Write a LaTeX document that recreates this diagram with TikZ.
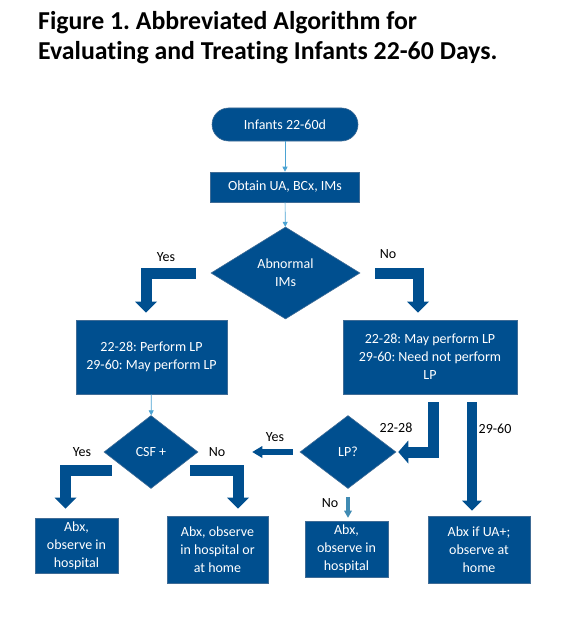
\documentclass[tikz,border=0pt]{standalone}
\usepackage{fontspec}
\setmainfont[Ligatures=NoCommon]{Carlito}
\usetikzlibrary{shapes.geometric,arrows.meta}
\definecolor{ppblue}{RGB}{0,79,143}
\definecolor{ppedge}{RGB}{64,108,150}
\definecolor{pplink}{RGB}{75,163,211}
\frenchspacing

\begin{document}
\begin{tikzpicture}[x=1pt, y=-1pt,
  box/.style={rectangle, fill=ppblue, draw=ppedge, line width=0.6pt, text=white,
    align=center, font=\fontsize{14}{18}\selectfont, inner sep=1pt},
  decision/.style={diamond, fill=ppblue, draw=ppedge, line width=0.6pt, text=white,
    align=center, font=\fontsize{14}{18}\selectfont, inner sep=0pt},
  lbl/.style={font=\fontsize{14}{18}\selectfont, inner sep=1pt},
  link/.style={draw=pplink, line width=0.7pt, -{Triangle[width=5pt,length=5pt]}},
  blockarrow/.style={draw=ppblue, line width=11pt,
    -{Triangle[width=22pt,length=11pt,line width=0pt]}}]
  \useasboundingbox (0,0) rectangle (587,623);

  % Title
  \node[anchor=base west, inner sep=0pt, font=\fontsize{25.8}{30}\selectfont\bfseries]
    (title1) at (38,30) {Figure 1. Abbreviated Algorithm for};
  \node[anchor=base west, inner sep=0pt, font=\fontsize{25.8}{30}\selectfont\bfseries]
    (title2) at (38,60) {Evaluating and Treating Infants 22-60 Days.};

  % Start, workup and first test
  \node[box, rounded corners=16.5pt, minimum width=146pt, minimum height=33pt]
    (start) at (285,124.5) {Infants 22-60d};
  \node[box, minimum width=149pt, minimum height=30pt]
    (obtain) at (285,187) {Obtain UA, BCx, IMs};
  \node[decision, aspect=1.62, minimum width=149pt, minimum height=92pt]
    (imdia) at (285.5,273) {Abnormal\\IMs};
  \draw[link] (start) -- (obtain);
  \draw[link] (obtain) -- (imdia);

  % LP boxes
  \node[box, minimum width=151pt, minimum height=74pt]
    (ybox) at (151.5,357) {22-28: Perform LP\\29-60: May perform LP};
  \node[box, minimum width=174pt, minimum height=74pt]
    (nbox) at (430,357) {22-28: May perform LP\\29-60: Need not perform\\LP};
  \draw[blockarrow, shorten >=7pt] ([xshift=-15pt]imdia.west) -| ([xshift=-5.5pt]ybox.north);
  \draw[blockarrow, shorten >=7pt] ([xshift=15pt]imdia.east) -| ([xshift=-12pt]nbox.north);
  \node[lbl] (yes1) at (166,257) {Yes};
  \node[lbl] (no1) at (388,254) {No};

  % Second tests
  \node[decision, aspect=1.29, minimum width=94pt, minimum height=73pt]
    (csfdia) at (151,452) {CSF +};
  \node[decision, aspect=1.31, minimum width=96pt, minimum height=73pt]
    (lpdia) at (348,452) {LP?};
  \draw[link] (ybox) -- (csfdia);
  \draw[blockarrow, line width=11pt, -{Triangle[width=23pt,length=10pt,line width=0pt]}]
    ([shift={(3.5pt,-8pt)}]nbox.south) |- ([xshift=2pt]lpdia.east);
  \draw[blockarrow, line width=6.5pt, -{Triangle[width=12pt,length=10pt,line width=0pt]}]
    ([xshift=-7pt]lpdia.west) -- ([xshift=54pt]csfdia.east);
  \node[lbl] (yes2) at (275,437) {Yes};
  \node[lbl] (n2228) at (396,428) {22-28};
  \node[lbl] (n2960) at (495,429) {29-60};

  % Outcomes
  \node[box, minimum width=83pt, minimum height=55pt]
    (out1) at (76.5,545.5) {Abx,\\observe in\\hospital};
  \node[box, minimum width=101pt, minimum height=67pt]
    (out2) at (217.5,549.5) {Abx, observe\\in hospital or\\at home};
  \node[box, minimum width=83pt, minimum height=56pt]
    (out3) at (346.5,549) {Abx,\\observe in\\hospital};
  \node[box, minimum width=102pt, minimum height=67pt]
    (out4) at (479,549.5) {Abx if UA+;\\observe at\\home};
  \draw[blockarrow, shorten >=9pt] ([shift={(8pt,-18pt)}]csfdia.west) -| ([xshift=-11pt]out1.north);
  \draw[blockarrow, shorten >=7pt] ([shift={(-8pt,-18pt)}]csfdia.east) -| ([xshift=20.5pt]out2.north);
  \draw[blockarrow, line width=10pt, -{Triangle[width=20pt,length=10pt,line width=0pt]}]
    ([shift={(42pt,-8pt)}]nbox.south) -- ([shift={(42pt,5pt)}]nbox.south |- out4.north);
  \draw[draw=pplink!85!black, line width=4pt, -{Triangle[width=8pt,length=7pt,line width=0pt]}]
    ([yshift=-8pt]lpdia.south) -- ([yshift=3pt]lpdia.south |- out3.north);
  \node[lbl] (yes3) at (82,452) {Yes};
  \node[lbl] (no3) at (217,452) {No};
  \node[lbl] (no2) at (330,503) {No};
\end{tikzpicture}
\end{document}
